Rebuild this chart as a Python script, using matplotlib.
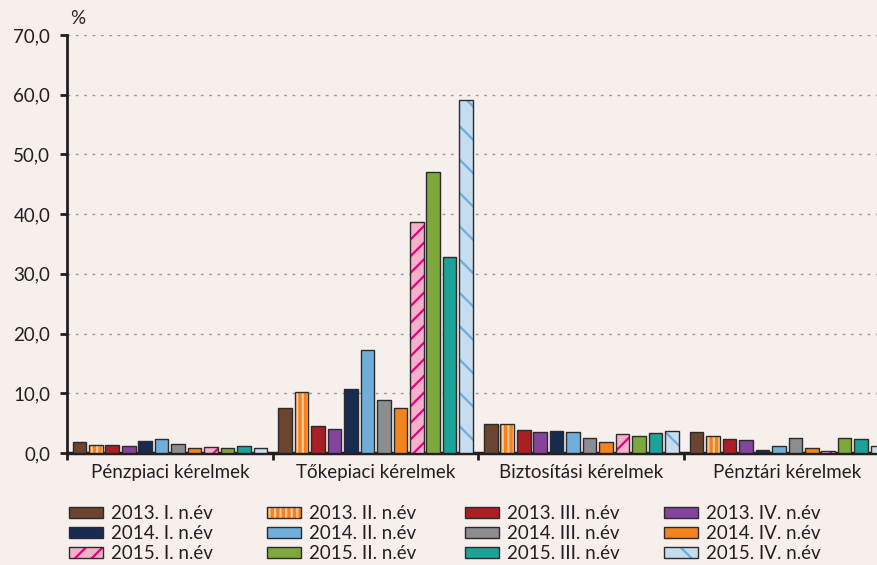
import matplotlib.pyplot as plt
from matplotlib.patches import Patch
import numpy as np

plt.rcParams['font.family'] = ['Lato', 'DejaVu Sans']
plt.rcParams['hatch.linewidth'] = 1.6

categories = ['Pénzpiaci kérelmek', 'Tőkepiaci kérelmek', 'Biztosítási kérelmek', 'Pénztári kérelmek']
series_labels = ['2013. I. n.év', '2013. II. n.év', '2013. III. n.év', '2013. IV. n.év',
                 '2014. I. n.év', '2014. II. n.év', '2014. III. n.év', '2014. IV. n.év',
                 '2015. I. n.év', '2015. II. n.év', '2015. III. n.év', '2015. IV. n.év']

# values per series, one value per category
v2013_1 = [1.8, 7.5, 4.9, 3.5]
v2013_2 = [1.4, 10.2, 4.9, 2.9]
v2013_3 = [1.4, 4.6, 3.8, 2.3]
v2013_4 = [1.2, 4.0, 3.5, 2.1]
v2014_1 = [2.0, 10.7, 3.7, 0.45]
v2014_2 = [2.4, 17.3, 3.5, 1.1]
v2014_3 = [1.5, 8.8, 2.5, 2.5]
v2014_4 = [0.8, 7.5, 1.9, 0.9]
v2015_1 = [1.0, 38.7, 3.1, 0.4]
v2015_2 = [0.8, 47.1, 2.8, 2.5]
v2015_3 = [1.1, 32.9, 3.3, 2.3]
v2015_4 = [0.8, 59.1, 3.7, 1.1]
values = [v2013_1, v2013_2, v2013_3, v2013_4, v2014_1, v2014_2, v2014_3, v2014_4,
          v2015_1, v2015_2, v2015_3, v2015_4]

colors = ['#6B4530', '#F5821F', '#A81F24', '#84449E',
          '#172A52', '#70AEDB', '#8C8D91', '#F28420',
          '#F6B0CC', '#7EA83C', '#1AA396', '#C6DCEF']
hatches = [None, '|||', None, None, None, None, None, None, '//', None, None, '\\\\']
hatch_colors = [None, '#FCC895', None, None, None, None, None, None, '#E6007E', None, None, '#6FAEDC']
hatches[11] = '\\'

bg = '#F6EFEC'
txt = '#231F20'
fs = 13.5

fig = plt.figure(figsize=(8.77, 5.65), dpi=100, facecolor=bg)
ax = fig.add_axes([67 / 877, 1 - 453 / 565, 1 - 67 / 877, (453 - 35) / 565])
ax.set_facecolor(bg)

x = np.arange(len(categories))
slot = 0.08
width = 0.066
handles = []
for i, vals in enumerate(values):
    pos = x + (i - 5.5) * slot
    if hatches[i]:
        ax.bar(pos, vals, width, color=colors[i], hatch=hatches[i],
               edgecolor=hatch_colors[i], linewidth=0, zorder=3)
        fill = Patch(facecolor=colors[i], hatch=hatches[i], edgecolor=hatch_colors[i], linewidth=0)
    else:
        ax.bar(pos, vals, width, color=colors[i], linewidth=0, zorder=3)
        fill = Patch(facecolor=colors[i], linewidth=0)
    ax.bar(pos, vals, width, fill=False, edgecolor='#2B2B2B', linewidth=1.0, zorder=4)
    edge = Patch(fill=False, edgecolor='#2B2B2B', linewidth=1.0)
    handles.append((fill, edge))

ax.set_yticks(np.arange(0, 71, 10))
ax.set_yticklabels([f'{v:.1f}'.replace('.', ',') for v in range(0, 71, 10)])
ax.set_xticks(np.arange(-0.5, 4, 1))
ax.set_xticklabels([])
ax.set_xticks(x, minor=True)
ax.set_xticklabels(categories, minor=True)
ax.set_ylim(0, 70)
ax.set_xlim(-0.5, 3.437)
ax.tick_params(axis='x', which='minor', length=0, pad=8, labelsize=fs, labelcolor=txt)
ax.tick_params(axis='x', which='major', length=5, width=2, direction='out', color='#231F20')
ax.tick_params(axis='y', length=5, width=2, direction='out', labelsize=fs, labelcolor=txt,
               color='#231F20', pad=7)

ax.grid(axis='y', linestyle=(0, (2, 4)), color='#9A9A9A', linewidth=1.0, zorder=0)
for s in ['top', 'right']:
    ax.spines[s].set_visible(False)
ax.spines['left'].set_linewidth(2)
ax.spines['bottom'].set_linewidth(2.5)
ax.spines['left'].set_color('#231F20')
ax.spines['bottom'].set_color('#231F20')

fig.text(70 / 877, 1 - 18 / 565, '%', fontsize=fs, color=txt, va='center')

# one legend per column so the columns sit at fixed positions like the original
col_x = [69, 267, 465, 664]
for c in range(4):
    idx = [c, c + 4, c + 8]
    fig.legend([handles[k] for k in idx], [series_labels[k] for k in idx],
               loc='upper left', bbox_to_anchor=(col_x[c] / 877, 1 - 505 / 565),
               frameon=False, fontsize=fs, labelcolor=txt, handlelength=1.8,
               handleheight=0.5, handletextpad=0.45, labelspacing=0.16,
               borderpad=0, borderaxespad=0)

fig.savefig('out.png', dpi=100, facecolor=bg)
